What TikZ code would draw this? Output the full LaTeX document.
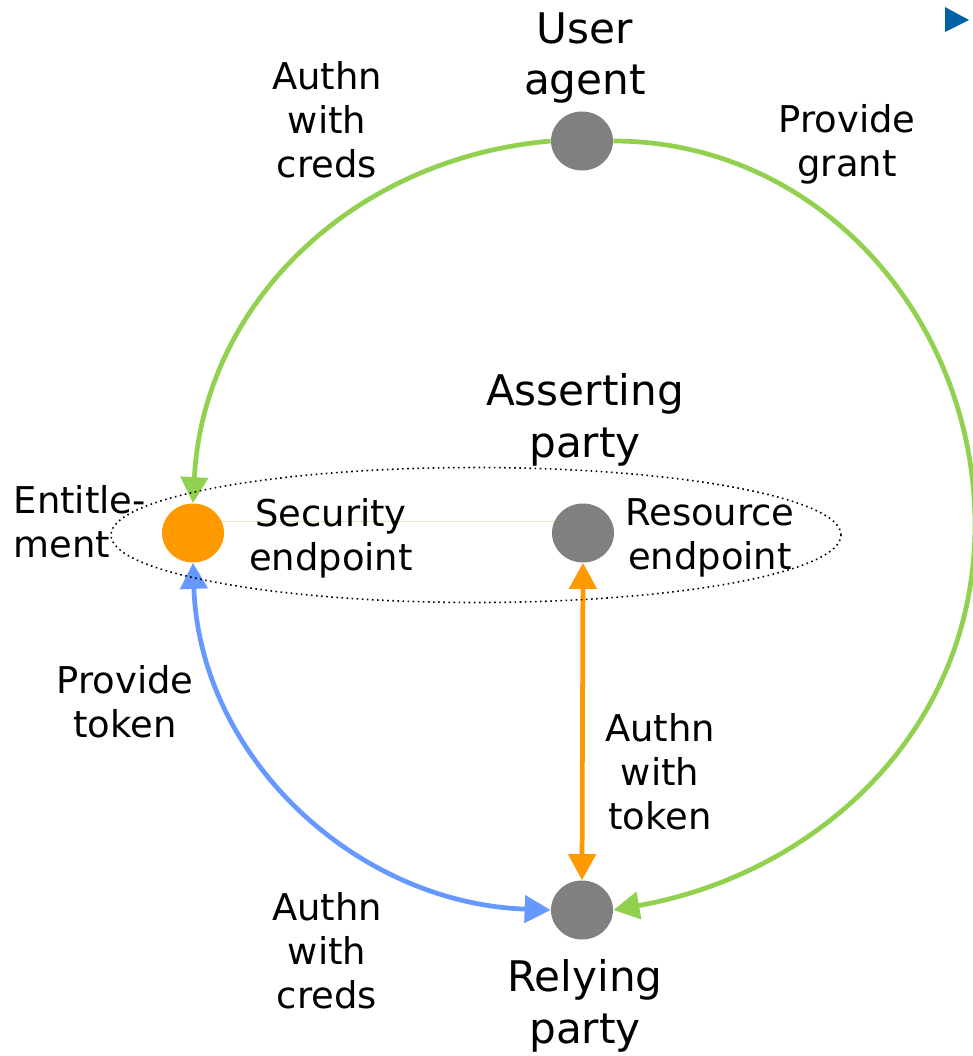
\documentclass[tikz,border=0pt]{standalone}
\usepackage{fontspec}
\setmainfont{DejaVu Sans}
\usetikzlibrary{arrows.meta,shapes.geometric,positioning}
\definecolor{grantgreen}{HTML}{92D050}
\definecolor{tokenblue}{HTML}{6699FF}
\definecolor{entorange}{HTML}{FF9900}
\definecolor{partygray}{HTML}{808080}
\definecolor{bulletblue}{HTML}{0063A6}
\tikzset{
  party/.style = {ellipse, fill=partygray, minimum width=1.24cm, minimum height=1.18cm, inner sep=0pt},
  lbl/.style = {align=center, font=\fontsize{21}{25}\selectfont},
  biglbl/.style = {align=center, font=\fontsize{24}{29.5}\selectfont},
  flow/.style = {line width=2.7pt, -{Triangle[length=0.52cm, width=0.54cm]}},
  twoway/.style = {line width=2.7pt, {Triangle[length=0.52cm, width=0.54cm]}-{Triangle[length=0.52cm, width=0.54cm]}},
}
\begin{document}
\begin{tikzpicture}
\useasboundingbox (0,0) rectangle (19.46,-21.12);
\node[party] (ua) at (11.64,-2.82) {};
\node[party] (rp) at (11.64,-18.2) {};
\node[party, fill=entorange] (se) at (3.86,-10.66) {};
\node[party] (re) at (11.66,-10.66) {};
\coordinate (rim) at (19.5,-10.5);
\draw[grantgreen!35, line width=0.4pt] (se.22) -- (re.158);
\draw[flow, grantgreen] (ua.east) to[out=0, in=90] (rim) to[out=-90, in=10] (rp.east);
\draw[flow, grantgreen] (ua.west) to[out=185, in=87] (se.north);
\draw[twoway, tokenblue] (se.south) to[out=-88, in=178] (rp.west);
\draw[twoway, entorange] (re.south) -- (rp.north);
\node[ellipse, draw, dotted, line width=0.9pt, minimum width=14.6cm, minimum height=2.7cm] (ap) at (9.52,-10.7) {};
\node[biglbl] (ua-lbl) at (11.7,-1.16) {User\\agent};
\node[lbl] (creds-lbl) at (6.54,-2.4) {Authn\\with\\creds};
\node[lbl] (grant-lbl) at (16.94,-2.88) {Provide\\grant};
\node[biglbl] (ap-lbl) at (11.7,-8.4) {Asserting\\party};
\node[lbl, align=left, anchor=west] (ent-lbl) at (0.15,-10.44) {Entitle-\\ment};
\node[lbl] (se-lbl) at (6.62,-10.76) {Security\\endpoint};
\node[lbl] (re-lbl) at (14.2,-10.76) {Resource\\endpoint};
\node[lbl] (token-lbl) at (2.5,-14.04) {Provide\\token};
\node[lbl] (authtok-lbl) at (13.2,-15.44) {Authn\\with\\token};
\node[lbl] (rpcreds-lbl) at (6.54,-19.02) {Authn\\with\\creds};
\node[biglbl] (rp-lbl) at (11.7,-20.12) {Relying\\party};
\fill[bulletblue] (18.9,-0.14) -- (19.38,-0.4) -- (18.9,-0.64) -- cycle;
\end{tikzpicture}
\end{document}
